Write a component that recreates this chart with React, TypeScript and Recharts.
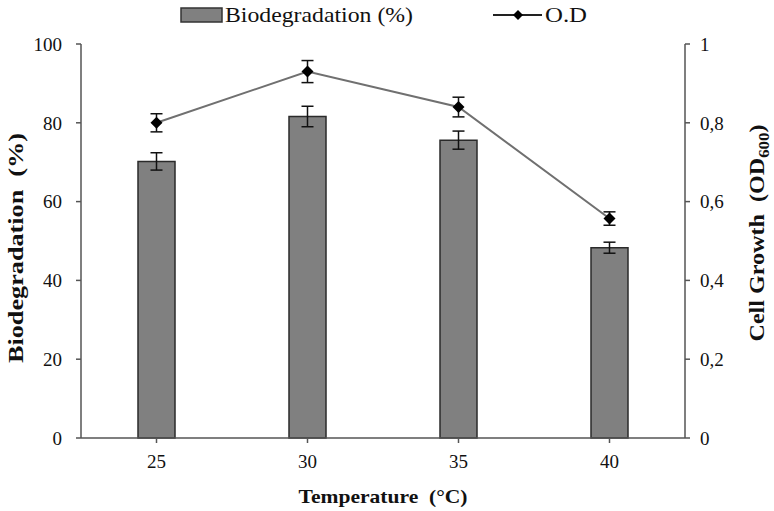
import React from 'react';
import { ComposedChart, Bar, Line, XAxis, YAxis, ErrorBar, Legend, Label } from 'recharts';

const temperatures = ['25', '30', '35', '40'];
const biodegradation = [70.2, 81.6, 75.6, 48.3];
const biodegradationErr = [2.2, 2.6, 2.3, 1.4];
const opticalDensity = [0.8, 0.93, 0.84, 0.557];
const opticalDensityErr = [0.023, 0.028, 0.025, 0.017];
const leftTicks = [0, 20, 40, 60, 80, 100];
const rightTicks = [0, 0.2, 0.4, 0.6, 0.8, 1];

const data = temperatures.map((t, i) => ({
  temp: t,
  bio: biodegradation[i],
  bioErr: biodegradationErr[i],
  od: opticalDensity[i],
  odErr: opticalDensityErr[i],
}));

const FONT = "'Liberation Serif', 'Times New Roman', Times, serif";
const AXIS = '#555';

const Diamond = (props: any) => {
  const { cx, cy, index } = props;
  if (cx == null || cy == null) return <g key={index} />;
  const s = 6;
  return (
    <path
      key={index}
      d={`M${cx},${cy - s}L${cx + s},${cy}L${cx},${cy + s}L${cx - s},${cy}Z`}
      fill="#000"
    />
  );
};

const renderLegend = () => (
  <svg width={420} height={30} style={{ display: 'block' }}>
    <rect x={1} y={8} width={41} height={14} fill="#808080" stroke="#333" strokeWidth={1.5} />
    <text x={45} y={22} fontSize={22} style={{ fontFamily: FONT }} fill="#111" textLength={188} lengthAdjust="spacingAndGlyphs">
      Biodegradation (%)
    </text>
    <line x1={313} x2={362} y1={15} y2={15} stroke="#222" strokeWidth={2} />
    <path d="M338,10L343,15L338,20L333,15Z" fill="#000" />
    <text x={365} y={22} fontSize={22} style={{ fontFamily: FONT }} fill="#111" textLength={42} lengthAdjust="spacingAndGlyphs">
      O.D
    </text>
  </svg>
);

const LeftTitle = (props: any) => {
  const { viewBox } = props;
  const x = viewBox.x + 2;
  const y = viewBox.y + viewBox.height / 2 + 7;
  return (
    <text
      x={x}
      y={y}
      transform={`rotate(-90, ${x}, ${y})`}
      textAnchor="middle"
      fontWeight="bold"
      fontSize={20}
      fill="#111"
      textLength={230}
      lengthAdjust="spacingAndGlyphs"
      style={{ whiteSpace: 'pre', fontFamily: FONT }}
    >
      {'Biodegradation  (%)'}
    </text>
  );
};

const RightTitle = (props: any) => {
  const { viewBox } = props;
  const x = viewBox.x + 79;
  const y = viewBox.y + viewBox.height / 2 - 8;
  return (
    <text
      x={x}
      y={y}
      transform={`rotate(-90, ${x}, ${y})`}
      textAnchor="middle"
      fontWeight="bold"
      fontSize={20}
      fill="#111"
      textLength={217}
      lengthAdjust="spacingAndGlyphs"
      style={{ whiteSpace: 'pre', fontFamily: FONT }}
    >
      <tspan>{'Cell Growth  (OD'}</tspan>
      <tspan fontSize={14} dy={5}>600</tspan>
      <tspan dy={-5}>)</tspan>
    </text>
  );
};

const BottomTitle = (props: any) => {
  const { viewBox } = props;
  const x = viewBox.x + viewBox.width / 2;
  const y = viewBox.y + 65;
  return (
    <text
      x={x}
      y={y}
      textAnchor="middle"
      fontWeight="bold"
      fontSize={19}
      fill="#111"
      textLength={169}
      lengthAdjust="spacingAndGlyphs"
      style={{ whiteSpace: 'pre', fontFamily: FONT }}
    >
      {'Temperature  (°C)'}
    </text>
  );
};

const tickStyle = { fontSize: 19, fill: '#111', style: { fontFamily: FONT } };

export default function App() {
  return (
    <div style={{ position: 'absolute', left: 0, top: 0, width: 774, height: 511, background: '#fff', fontFamily: FONT }}>
      <ComposedChart
        width={774}
        height={511}
        data={data}
        margin={{ top: 44, right: 29, left: 21, bottom: 43 }}
        style={{ fontFamily: FONT }}
      >
        <XAxis
          dataKey="temp"
          height={30}
          tick={tickStyle}
          tickSize={5}
          tickMargin={12}
          axisLine={{ stroke: AXIS, strokeWidth: 1.5 }}
          tickLine={{ stroke: AXIS, strokeWidth: 1.5 }}
        >
          <Label content={<BottomTitle />} />
        </XAxis>
        <YAxis
          yAxisId="left"
          orientation="left"
          width={60}
          domain={[0, 100]}
          ticks={leftTicks}
          tick={tickStyle}
          tickSize={5}
          tickMargin={14}
          axisLine={{ stroke: AXIS, strokeWidth: 1.5 }}
          tickLine={{ stroke: AXIS, strokeWidth: 1.5 }}
        >
          <Label content={<LeftTitle />} />
        </YAxis>
        <YAxis
          yAxisId="right"
          orientation="right"
          width={60}
          domain={[0, 1]}
          ticks={rightTicks}
          tick={tickStyle}
          tickSize={5}
          tickMargin={10}
          tickFormatter={(v: number) => String(v).replace('.', ',')}
          axisLine={{ stroke: AXIS, strokeWidth: 1.5 }}
          tickLine={{ stroke: AXIS, strokeWidth: 1.5 }}
        >
          <Label content={<RightTitle />} />
        </YAxis>
        <Legend
          verticalAlign="middle"
          align="center"
          content={renderLegend}
          wrapperStyle={{ left: 180, top: 0, width: 420, height: 30 }}
        />
        <Bar
          yAxisId="left"
          dataKey="bio"
          name="Biodegradation (%)"
          barSize={37}
          fill="#808080"
          stroke="#2a2a2a"
          strokeWidth={1.5}
          isAnimationActive={false}
        >
          <ErrorBar dataKey="bioErr" width={6} stroke="#111" strokeWidth={1.5} direction="y" />
        </Bar>
        <Line
          yAxisId="right"
          dataKey="od"
          name="O.D"
          stroke="#707070"
          strokeWidth={2}
          dot={Diamond}
          activeDot={false}
          isAnimationActive={false}
        >
          <ErrorBar dataKey="odErr" width={6} stroke="#111" strokeWidth={1.5} direction="y" />
        </Line>
      </ComposedChart>
    </div>
  );
}
